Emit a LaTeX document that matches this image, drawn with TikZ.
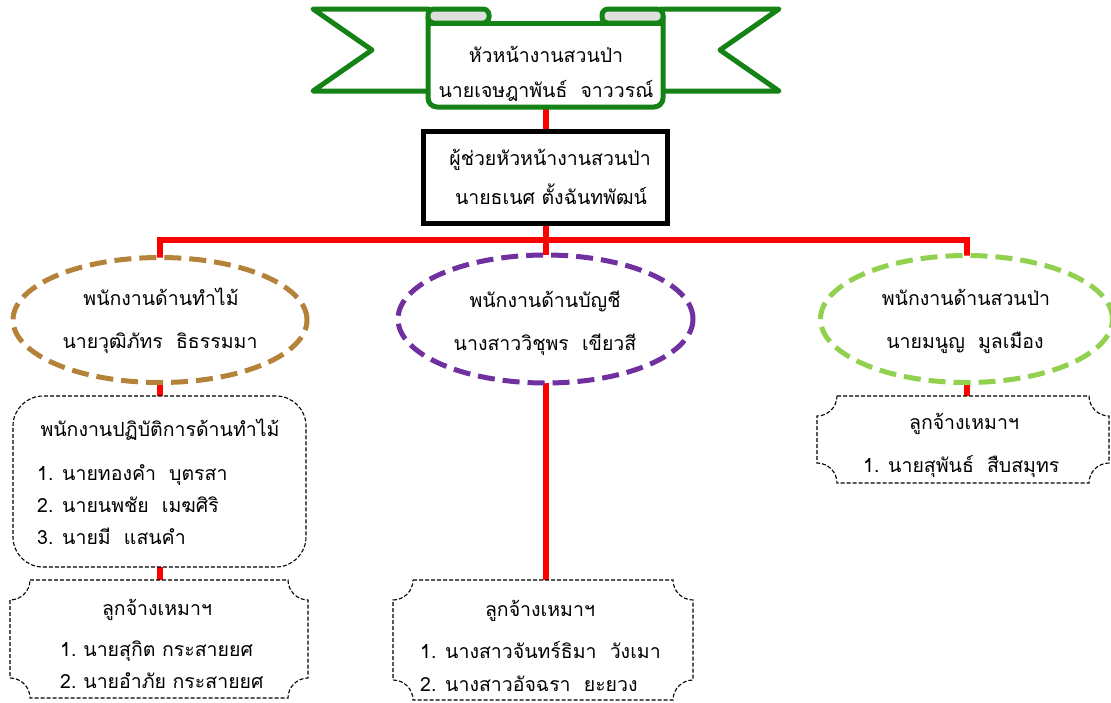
\documentclass[tikz,border=0pt]{standalone}
\usepackage{fontspec}
\setmainfont[Script=Thai]{Loma}
\usetikzlibrary{shapes.geometric,backgrounds,calc}
\definecolor{brn}{RGB}{181,130,58}
\definecolor{prp}{RGB}{112,48,160}
\definecolor{lgr}{RGB}{146,208,80}
\definecolor{bgr}{RGB}{20,130,20}
\newcommand\fs{\fontsize{19.5}{22}\selectfont}
\newcommand\plaqueoutline[2]{%
  \draw[thinbox] ([xshift=#2]#1.north west) -- ([xshift=-#2]#1.north east)
    .. controls ([xshift=-#2,yshift=-0.55*#2]#1.north east) and ([xshift=-0.55*#2,yshift=-#2]#1.north east) .. ([yshift=-#2]#1.north east)
    -- ([yshift=#2]#1.south east)
    .. controls ([xshift=-0.55*#2,yshift=#2]#1.south east) and ([xshift=-#2,yshift=0.55*#2]#1.south east) .. ([xshift=-#2]#1.south east)
    -- ([xshift=#2]#1.south west)
    .. controls ([xshift=#2,yshift=0.55*#2]#1.south west) and ([xshift=0.55*#2,yshift=#2]#1.south west) .. ([yshift=#2]#1.south west)
    -- ([yshift=-#2]#1.north west)
    .. controls ([xshift=0.55*#2,yshift=-#2]#1.north west) and ([xshift=#2,yshift=-0.55*#2]#1.north west) .. ([xshift=#2]#1.north west) -- cycle;}
\tikzset{
  txt/.style={font=\fs, anchor=base, inner sep=0pt},
  itm/.style={font=\fs, anchor=base west, inner sep=0pt},
  holder/.style={draw=none, inner sep=0pt, outer sep=0pt},
  redline/.style={draw=red, line width=6pt},
  banner/.style={draw=bgr, line width=5pt, line join=round},
  oval/.style={ellipse, inner sep=0pt, outer sep=0pt, fill=white, line width=5pt, dash pattern=on 17pt off 8pt},
  thinbox/.style={draw=black, line width=1.1pt, dash pattern=on 4pt off 2pt},
}
\begin{document}
\begin{tikzpicture}[x=1pt,y=-1pt]
\useasboundingbox (0,0) rectangle (1111,702);
% banner
\draw[banner] (430,9) -- (313,9) -- (372,50) -- (313,91) -- (430,91);
\draw[banner] (660,9) -- (779,9) -- (720,50) -- (779,91) -- (660,91);
\draw[banner, fill=white, rounded corners=9] (428,16) -- (428,107) -- (663,107) -- (663,16);
\draw[banner] (428,23) -- (663,23);
\draw[banner, fill=gray!25, rounded corners=6] (428,9) rectangle (489,23);
\draw[banner, fill=gray!25, rounded corners=6] (602,9) rectangle (663,23);
\node[holder, minimum width=235pt, minimum height=91pt] (head) at (545.5,61.5) {};
\node[txt] (h1) at (546,62) {หัวหน้างานสวนป่า};
\node[txt] (h2) at (546,97) {นายเจษฎาพันธ์~ จาววรณ์};
% assistant
\node[draw=black, line width=5pt, fill=white, minimum width=244pt, minimum height=92pt, inner sep=0pt, outer sep=0pt] (asst) at (545.5,177) {};
\node[txt] (a1) at (550,165) {ผู้ช่วยหัวหน้างานสวนป่า};
\node[txt] (a2) at (551,204) {นายธเนศ ตั้งฉันทพัฒน์};
% ellipses
\node[oval, draw=brn, minimum width=294pt, minimum height=125pt] (e1) at (160,320) {};
\node[oval, draw=prp, minimum width=295pt, minimum height=128pt] (e2) at (545.5,319) {};
\node[oval, draw=lgr, minimum width=292pt, minimum height=127pt] (e3) at (966.5,319) {};
\node[txt] (l1) at (161,305) {พนักงานด้านทำไม้};
\node[txt] (l2) at (160,348) {นายวุฒิภัทร~ ธิธรรมมา};
\node[txt] (m1) at (545,307) {พนักงานด้านบัญชี};
\node[txt] (m2) at (545,350) {นางสาววิชุพร~ เขียวสี};
\node[txt] (r1) at (966,305) {พนักงานด้านสวนป่า};
\node[txt] (r2) at (965,348) {นายมนูญ~ มูลเมือง};
% left rounded box
\node[thinbox, rounded corners=30pt, minimum width=293pt, minimum height=171pt, inner sep=0pt, outer sep=0pt] (rb1) at (159.5,481.5) {};
\node[txt] (rt) at (160,436) {พนักงานปฏิบัติการด้านทำไม้};
\node[itm] (ri1) at (37,480) {1. นายทองคำ~ บุตรสา};
\node[itm] (ri2) at (37,512) {2. นายนพชัย~ เมฆศิริ};
\node[itm] (ri3) at (37,544) {3. นายมี~ แสนคำ};
% plaques
\node[holder, minimum width=298pt, minimum height=118pt] (p1) at (159,639) {};
\node[holder, minimum width=300pt, minimum height=120pt] (p2) at (543,640) {};
\node[holder, minimum width=292pt, minimum height=87pt] (p3) at (963,439.5) {};
\plaqueoutline{p1}{20pt}
\plaqueoutline{p2}{20pt}
\plaqueoutline{p3}{20pt}
\node[txt] (p1t) at (157,615) {ลูกจ้างเหมาฯ};
\node[itm] (p1a) at (60,656) {1.\kern7pt นายสุกิต กระสายยศ};
\node[itm] (p1b) at (60,688) {2.\kern7pt นายอำภัย กระสายยศ};
\node[txt] (p2t) at (540,616) {ลูกจ้างเหมาฯ};
\node[itm] (p2a) at (420,658) {1. นางสาวจันทร์ธิมา~ วังเมา};
\node[itm] (p2b) at (420,691) {2. นางสาวอัจฉรา~ ยะยวง};
\node[txt] (p3t) at (964,429) {ลูกจ้างเหมาฯ};
\node[itm] (p3a) at (863,472) {1. นายสุพันธ์~ สืบสมุทร};
\coordinate (bus) at (545.5,240);
% connectors
\begin{scope}[on background layer]
\draw[redline] (head.south) -- (head.south |- asst.north);
\draw[redline] (asst.south) -- (asst.south |- bus);
\draw[redline] (e1.north) -- (e1.north |- bus) -- (e3.north |- bus) -- (e3.north);
\draw[redline] (e2.north) -- (e2.north |- bus);
\draw[redline] (e1.south) -- (e1.south |- rb1.north);
\draw[redline] (rb1.south) -- (rb1.south |- p1.north);
\draw[redline] (e2.south) -- (e2.south |- p2.north);
\draw[redline] (e3.south) -- (e3.south |- p3.north);
\end{scope}
\end{tikzpicture}
\end{document}
